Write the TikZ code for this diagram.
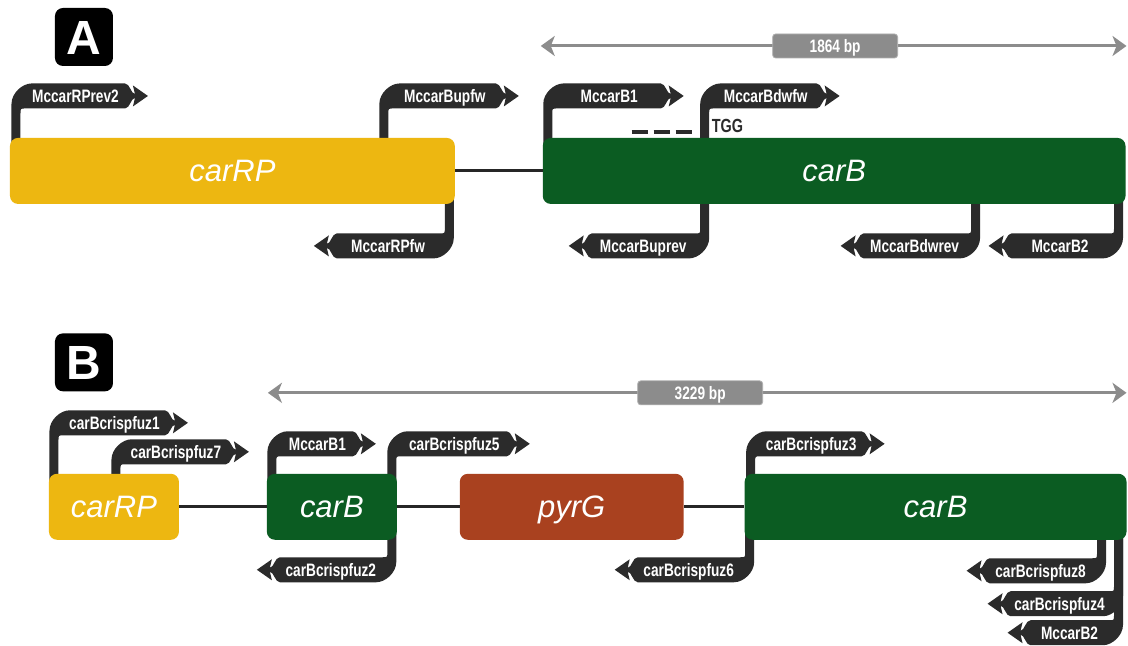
\documentclass[tikz,border=0pt]{standalone}
\usepackage{fontspec}
\setmainfont{Liberation Sans}
\newfontface\condbold[FakeStretch=0.76]{Liberation Sans Bold}
\newfontface\geneital{Liberation Sans Italic}
\newfontface\panelbold{Liberation Sans Bold}
\usetikzlibrary{arrows.meta}
\pgfdeclarelayer{canvas}
\pgfdeclarelayer{prim}
\pgfsetlayers{canvas,prim,main}

\definecolor{rpyellow}{HTML}{EDB711}
\definecolor{bgreen}{HTML}{0B5C22}
\definecolor{gred}{HTML}{A9411F}
\definecolor{primdark}{HTML}{2B2B2B}
\definecolor{scalegray}{HTML}{8C8C8C}
\definecolor{linkdark}{HTML}{262626}

\tikzset{
  gene/.style={rounded corners=8pt, inner sep=0pt, minimum height=66pt,
    text=white, text height=22pt, text depth=0pt,
    font=\geneital\fontsize{31}{36}\selectfont},
  link/.style={draw=linkdark, line width=3pt},
  plabel/.style={inner sep=0pt, text=white, text height=13pt, text depth=0pt,
    font=\condbold\fontsize{18}{20}\selectfont},
  panel/.style={fill=black, rounded corners=8pt, minimum size=58pt, inner sep=0pt,
    text=white, text height=34.4pt, text depth=0pt,
    font=\panelbold\fontsize{48}{50}\selectfont},
  scalebar/.style={draw=scalegray, line width=3pt,
    {Stealth[length=14pt,width=20pt,inset=4pt]}-{Stealth[length=14pt,width=20pt,inset=4pt]}},
  scalebox/.style={fill=scalegray, draw=scalegray!70, line width=0.8pt, rounded corners=3pt,
    minimum height=24pt, inner sep=0pt, text=white, text height=12.5pt, text depth=0pt,
    font=\condbold\fontsize{18}{20}\selectfont},
}

% forward primer: name, stem x, stem base y, band y, band end x, label
\newcommand{\fprimer}[6]{%
  \begin{pgfonlayer}{prim}
    \fill[primdark] (#2-4.5,#3) -- (#2-4.5,#4+8)
      .. controls (#2-4.5,#4-3) and (#2+6.5,#4-12.5) .. (#2+15.5,#4-12.5)
      -- (#5,#4-12.5) .. controls (#5+5,#4-12.5) and (#5+6,#4-2) .. (#5+10,#4-2)
      -- (#5+8,#4-10.5) -- (#5+23,#4) -- (#5+8,#4+10.5) -- (#5+10,#4+2)
      .. controls (#5+6,#4+2) and (#5+5,#4+12.5) .. (#5,#4+12.5)
      -- (#2+9.5,#4+12.5) .. controls (#2+4.5,#4+12.5) .. (#2+4.5,#4+17.5)
      -- (#2+4.5,#3) -- cycle;
  \end{pgfonlayer}
  \node[plabel] (#1) at ({(#2+#5)/2+5},#4) {#6};
}
% reverse primer: name, stem x, stem base y, band y, band end x, label
\newcommand{\rprimer}[6]{%
  \begin{pgfonlayer}{prim}
    \fill[primdark] (#2+4.5,#3) -- (#2+4.5,#4-8)
      .. controls (#2+4.5,#4+3) and (#2-6.5,#4+12.5) .. (#2-15.5,#4+12.5)
      -- (#5,#4+12.5) .. controls (#5-5,#4+12.5) and (#5-6,#4+2) .. (#5-10,#4+2)
      -- (#5-8,#4+10.5) -- (#5-23,#4) -- (#5-8,#4-10.5) -- (#5-10,#4-2)
      .. controls (#5-6,#4-2) and (#5-5,#4-12.5) .. (#5,#4-12.5)
      -- (#2-9.5,#4-12.5) .. controls (#2-4.5,#4-12.5) .. (#2-4.5,#4-17.5)
      -- (#2-4.5,#3) -- cycle;
  \end{pgfonlayer}
  \node[plabel] (#1) at ({(#2+#5)/2-5},#4) {#6};
}

\begin{document}
\begin{tikzpicture}[x=1pt,y=-1pt]
\begin{pgfonlayer}{canvas}
  \path[use as bounding box, fill=white] (0,0) rectangle (1128,643);
\end{pgfonlayer}

% ---------- panel A ----------
\node[panel] (labA) at (84,37) {A};

\coordinate (sA1) at (541,46);
\coordinate (sA2) at (1127,46);
\draw[scalebar] (sA1) -- (sA2);
\node[scalebox, minimum width=125pt] (bpA) at (835.5,46) {1864 bp};

\fprimer{pA1}{16}{150}{96}{125}{MccarRPrev2}
\fprimer{pA2}{384}{150}{96}{496}{MccarBupfw}
\fprimer{pA3}{548}{150}{96}{661}{MccarB1}
\fprimer{pA4}{705}{150}{96}{817}{MccarBdwfw}
\rprimer{pA5}{449.5}{192}{246}{337}{MccarRPfw}
\rprimer{pA6}{705}{192}{246}{592}{MccarBuprev}
\rprimer{pA7}{976}{192}{246}{864}{MccarBdwrev}
\rprimer{pA8}{1119}{192}{246}{1012}{MccarB2}

\node[gene, fill=rpyellow, minimum width=445pt] (rpA) at (232.5,171) {carRP};
\node[gene, fill=bgreen, minimum width=583pt] (cbA) at (834.5,171) {carB};
\draw[link] (rpA.east) -- (cbA.west);

% protospacer mark and PAM
\coordinate (pamL) at (632,132);
\coordinate (pamR) at (692,132);
\draw[primdark, line width=4pt, dash pattern=on 16pt off 6pt] (pamL) -- (pamR);
\node[inner sep=0pt, text=primdark, text height=13pt, text depth=0pt,
      font=\condbold\fontsize{19}{20}\selectfont, anchor=west] (pam) at (712,126.5) {TGG};

% ---------- panel B ----------
\node[panel] (labB) at (84,362.5) {B};

\coordinate (sB1) at (268,393);
\coordinate (sB2) at (1127,393);
\draw[scalebar] (sB1) -- (sB2);
\node[scalebox, minimum width=125pt] (bpB) at (700.5,393) {3229 bp};

\fprimer{pB1}{54}{486}{423}{165}{carBcrispfuz1}
\fprimer{pB2}{116}{486}{452}{226}{carBcrispfuz7}
\fprimer{pB3}{272}{486}{444}{353}{MccarB1}
\fprimer{pB4}{392}{486}{444}{507}{carBcrispfuz5}
\fprimer{pB5}{751}{486}{444}{862}{carBcrispfuz3}
\rprimer{pB6}{392}{528}{570}{280}{carBcrispfuz2}
\rprimer{pB7}{750}{528}{570}{638}{carBcrispfuz6}
\rprimer{pB8}{1102}{528}{571}{990}{carBcrispfuz8}
\rprimer{pB9}{1119}{528}{604}{1011}{carBcrispfuz4}
\rprimer{pB10}{1119}{528}{633}{1031}{MccarB2}

\node[gene, fill=rpyellow, minimum width=130pt] (rpB) at (114,507) {carRP};
\node[gene, fill=bgreen, minimum width=130pt] (cbB1) at (332,507) {carB};
\node[gene, fill=gred, minimum width=224pt] (pyr) at (572,507) {pyrG};
\node[gene, fill=bgreen, minimum width=382pt] (cbB2) at (936,507) {carB};
\draw[link] (rpB.east) -- (cbB1.west);
\draw[link] (cbB1.east) -- (pyr.west);
\draw[link] (pyr.east) -- (cbB2.west);
\end{tikzpicture}
\end{document}
